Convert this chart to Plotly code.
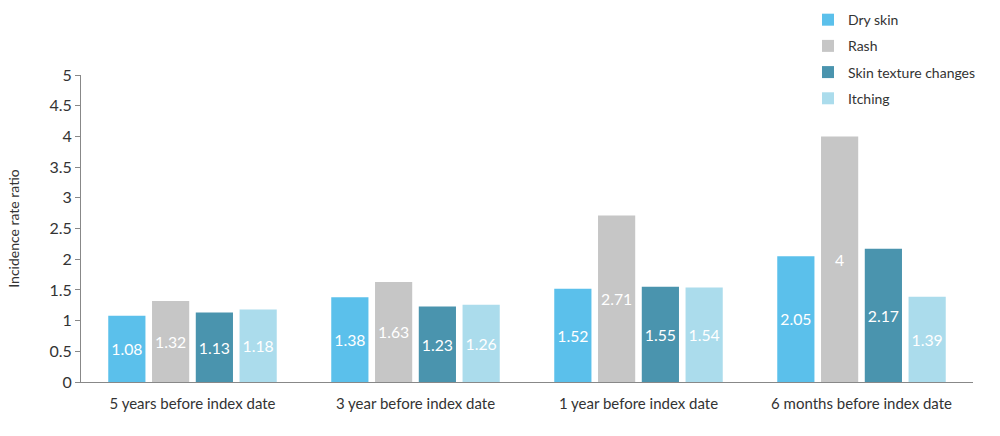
import plotly.graph_objects as go

categories = ["5 years before index date", "3 year before index date",
              "1 year before index date", "6 months before index date"]
dry_skin = [1.08, 1.38, 1.52, 2.05]
rash = [1.32, 1.63, 2.71, 4]
skin_texture = [1.13, 1.23, 1.55, 2.17]
itching = [1.18, 1.26, 1.54, 1.39]
y_ticks = [0, 0.5, 1, 1.5, 2, 2.5, 3, 3.5, 4, 4.5, 5]

series = [
    ("Dry skin", dry_skin, "#5bc0eb"),
    ("Rash", rash, "#c6c6c6"),
    ("Skin texture changes", skin_texture, "#4a94ae"),
    ("Itching", itching, "#abdcec"),
]

FONT = "Lato, 'Open Sans', sans-serif"

fig = go.Figure()
for i, (name, vals, color) in enumerate(series):
    fig.add_trace(go.Bar(
        x=categories, y=vals, name=name, marker=dict(color=color, line=dict(width=0)),
        text=[f"{v:g}" for v in vals], textposition="inside", insidetextanchor="middle",
        textfont=dict(color="white", size=16, family=FONT), textangle=0,
        legendgroup=f"g{i}", cliponaxis=False,
    ))

fig.update_layout(
    width=1000, height=436,
    margin=dict(l=81, r=27, t=75, b=54, autoexpand=False),
    paper_bgcolor="white", plot_bgcolor="white",
    barmode="group", bargap=0.215, bargroupgap=0.15,
    font=dict(family=FONT, color="#333333", size=14),
    uniformtext=dict(minsize=8, mode="show"),
    legend=dict(x=0.815, y=1.231, xanchor="left", yanchor="top",
                font=dict(size=14, color="#333333"), tracegroupgap=5,
                bgcolor="rgba(0,0,0,0)"),
    showlegend=True,
)
fig.update_yaxes(range=[0, 5], tickvals=y_ticks, ticktext=[f"{t:g}" for t in y_ticks],
                 showgrid=False, zeroline=False, showline=True, linecolor="#888888",
                 linewidth=1, ticks="outside", ticklen=5, tickcolor="#888888",
                 tickfont=dict(size=16, color="#333333"), automargin=False,
                 title=dict(text="Incidence rate ratio", font=dict(size=14, color="#333333"), standoff=26))
fig.update_xaxes(showgrid=False, showline=True, linecolor="#888888", linewidth=1,
                 ticks="outside", ticklen=8, tickcolor="rgba(0,0,0,0)",
                 tickfont=dict(size=15, color="#333333"), automargin=False)

fig.write_html("out.html", config={"displayModeBar": False},
               post_script="document.body.style.margin='0';document.body.style.padding='0';")
